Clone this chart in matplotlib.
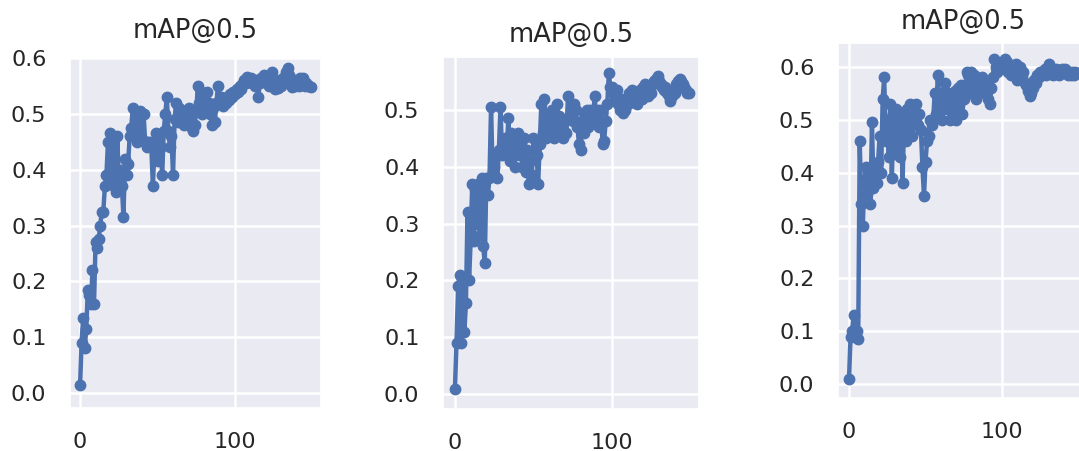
import numpy as np
import matplotlib
matplotlib.use("Agg")
import matplotlib.pyplot as plt
import seaborn as sns

# mAP@0.5 per epoch
map_a = [0.015, 0.09, 0.135, 0.08, 0.115, 0.185, 0.175, 0.16, 0.22, 0.16,
         0.27, 0.26, 0.275, 0.30, 0.325, 0.325, 0.37, 0.39, 0.45, 0.465,
         0.385, 0.455, 0.37, 0.36, 0.46, 0.38, 0.40, 0.37, 0.315, 0.42,
         0.39, 0.41, 0.46, 0.475, 0.51, 0.46, 0.50, 0.45, 0.48, 0.505,
         0.455, 0.50, 0.45, 0.44, 0.45, 0.45, 0.44, 0.37, 0.44, 0.465,
         0.415, 0.46, 0.44, 0.39, 0.47, 0.50, 0.53, 0.47, 0.44, 0.46,
         0.39, 0.49, 0.52, 0.485, 0.51, 0.49, 0.50, 0.48, 0.505, 0.49,
         0.51, 0.49, 0.475, 0.47, 0.48, 0.505, 0.55, 0.52, 0.54, 0.50,
         0.53, 0.51, 0.54, 0.52, 0.50, 0.48, 0.51, 0.485, 0.52, 0.55,
         0.52, 0.53, 0.515, 0.525, 0.52, 0.53, 0.525, 0.535, 0.53, 0.54,
         0.535, 0.545, 0.54, 0.55, 0.545, 0.555, 0.56, 0.555, 0.567, 0.56,
         0.565, 0.555, 0.56, 0.55, 0.56, 0.53, 0.555, 0.565, 0.56, 0.57,
         0.56, 0.565, 0.55, 0.57, 0.575, 0.56, 0.545, 0.555, 0.546, 0.56,
         0.55, 0.565, 0.56, 0.575, 0.582, 0.57, 0.56, 0.548, 0.56, 0.55,
         0.555, 0.55, 0.565, 0.555, 0.564, 0.55, 0.555, 0.55, 0.55, 0.548]

map_b = [0.01, 0.09, 0.19, 0.21, 0.09, 0.20, 0.11, 0.16, 0.32, 0.20,
         0.27, 0.37, 0.27, 0.36, 0.30, 0.37, 0.28, 0.38, 0.26, 0.23,
         0.38, 0.35, 0.38, 0.505, 0.39, 0.40, 0.42, 0.38, 0.43, 0.505,
         0.42, 0.44, 0.45, 0.43, 0.485, 0.41, 0.46, 0.42, 0.40, 0.45,
         0.46, 0.42, 0.44, 0.40, 0.45, 0.39, 0.43, 0.37, 0.41, 0.385,
         0.45, 0.43, 0.42, 0.37, 0.44, 0.51, 0.46, 0.52, 0.45, 0.49,
         0.47, 0.46, 0.50, 0.45, 0.48, 0.51, 0.49, 0.46, 0.47, 0.45,
         0.48, 0.46, 0.525, 0.49, 0.50, 0.48, 0.51, 0.50, 0.47, 0.44,
         0.43, 0.48, 0.46, 0.49, 0.50, 0.47, 0.50, 0.48, 0.49, 0.525,
         0.48, 0.50, 0.47, 0.50, 0.44, 0.445, 0.48, 0.51, 0.565, 0.54,
         0.54, 0.53, 0.52, 0.535, 0.51, 0.50, 0.52, 0.495, 0.50, 0.52,
         0.51, 0.53, 0.515, 0.535, 0.52, 0.53, 0.51, 0.525, 0.535, 0.52,
         0.54, 0.545, 0.53, 0.525, 0.54, 0.53, 0.545, 0.55, 0.555, 0.56,
         0.55, 0.545, 0.54, 0.535, 0.54, 0.53, 0.525, 0.515, 0.525, 0.535,
         0.53, 0.545, 0.55, 0.555, 0.55, 0.545, 0.54, 0.535, 0.53, 0.53]

map_c = [0.01, 0.09, 0.10, 0.13, 0.09, 0.10, 0.085, 0.46, 0.34, 0.30,
         0.38, 0.41, 0.36, 0.40, 0.34, 0.495, 0.37, 0.41, 0.38, 0.42,
         0.47, 0.40, 0.54, 0.58, 0.46, 0.50, 0.43, 0.53, 0.39, 0.51,
         0.44, 0.52, 0.47, 0.43, 0.51, 0.38, 0.50, 0.46, 0.52, 0.48,
         0.53, 0.47, 0.52, 0.50, 0.53, 0.49, 0.51, 0.48, 0.41, 0.355,
         0.42, 0.46, 0.47, 0.50, 0.49, 0.50, 0.55, 0.51, 0.585, 0.53,
         0.55, 0.50, 0.53, 0.57, 0.52, 0.55, 0.50, 0.54, 0.52, 0.555,
         0.50, 0.56, 0.53, 0.565, 0.51, 0.54, 0.56, 0.59, 0.585, 0.55,
         0.59, 0.56, 0.585, 0.54, 0.575, 0.55, 0.57, 0.58, 0.56, 0.55,
         0.57, 0.54, 0.53, 0.56, 0.58, 0.615, 0.60, 0.59, 0.605, 0.595,
         0.61, 0.60, 0.615, 0.61, 0.59, 0.60, 0.585, 0.60, 0.59, 0.605,
         0.575, 0.59, 0.60, 0.58, 0.59, 0.57, 0.565, 0.555, 0.545, 0.55,
         0.56, 0.575, 0.57, 0.585, 0.58, 0.59, 0.585, 0.59, 0.595, 0.585,
         0.60, 0.605, 0.59, 0.585, 0.59, 0.595, 0.59, 0.585, 0.59, 0.595,
         0.59, 0.595, 0.59, 0.585, 0.59, 0.585, 0.59, 0.585, 0.59, 0.588]

series = [map_a, map_b, map_c]
title = "mAP@0.5"
yticks = [[0.0, 0.1, 0.2, 0.3, 0.4, 0.5, 0.6],
          [0.0, 0.1, 0.2, 0.3, 0.4, 0.5],
          [0.0, 0.1, 0.2, 0.3, 0.4, 0.5, 0.6]]

sns.set_theme(style="darkgrid")
plt.rcParams['font.family'] = ['DejaVu Sans']

W, H = 1079, 451
fig = plt.figure(figsize=(W / 100, H / 100), dpi=100)

# axes boxes in pixels: left, top, right, bottom (third one runs off the right edge)
boxes = [(70, 57, 321, 408), (443, 57, 699, 409), (838, 43, 1088, 398)]
xlims = [(-6.5, 155.5), (-7.6, 155.4), (-7.2, 156.2)]
ylims = [(-0.027, 0.602), (-0.026, 0.593), (-0.026, 0.645)]
title_pads = [14, 11, 10]

for i, vals in enumerate(series):
    l, t, r, b = boxes[i]
    ax = fig.add_axes([l / W, (H - b) / H, (r - l) / W, (b - t) / H])
    ep = np.arange(len(vals))
    ax.plot(ep, vals, color="#4C72B0", marker="o", markersize=7.5, linewidth=3.2)
    ax.set_xlim(*xlims[i])
    ax.set_ylim(*ylims[i])
    ax.set_xticks([0, 100])
    ax.set_yticks(yticks[i])
    ax.tick_params(labelsize=16, length=0, pad=17, colors="#262626")
    ax.grid(True, color="white", linewidth=1.8)
    ax.set_title(title, fontsize=18.5, pad=title_pads[i], color="#262626")

fig.savefig("out.png", dpi=100)
